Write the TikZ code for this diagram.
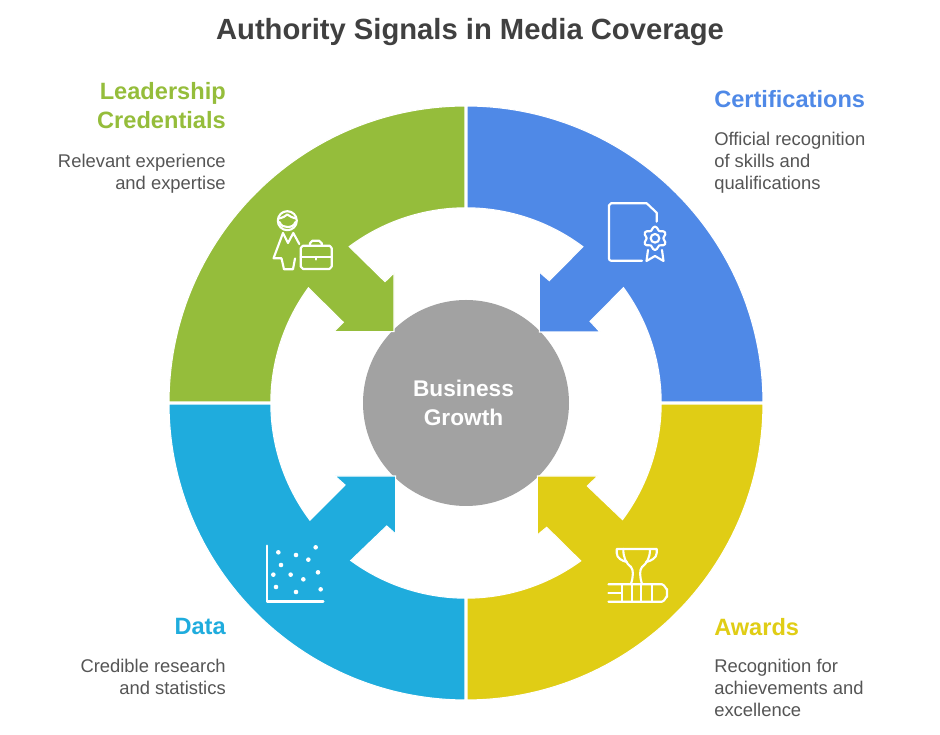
\documentclass[tikz,border=0pt]{standalone}
\usepackage{fontspec}
\setmainfont{Liberation Sans}
\definecolor{cblue}{HTML}{4F89E7}
\definecolor{cgreen}{HTML}{95BD3B}
\definecolor{cyel}{HTML}{E0CD15}
\definecolor{ccyan}{HTML}{1FACDD}
\definecolor{cgray}{HTML}{A2A2A2}
\definecolor{ctext}{HTML}{404040}
\definecolor{cbody}{HTML}{555555}
\tikzset{
  seg/.style={draw=white,line width=0.8pt,line join=miter},
  icon/.style={draw=white,line width=1.6pt,line cap=round,line join=round},
  dotmark/.style={fill=white,draw=none},
  head/.style={font=\fontsize{17.7pt}{22pt}\selectfont\bfseries,inner sep=0pt},
  bodyr/.style={font=\fontsize{13.8pt}{16.5pt}\selectfont,text=cbody,inner sep=0pt,align=left,anchor=north west},
  bodyl/.style={font=\fontsize{13.8pt}{16.5pt}\selectfont,text=cbody,inner sep=0pt,align=right,anchor=north east},
}
\begin{document}
\begin{tikzpicture}[x=0.75pt,y=0.75pt]
\useasboundingbox[fill=white] (0,0) rectangle (940,735);
\node[circle,fill=cgray,minimum size=154.5pt,inner sep=0pt] (hub) at (466,332) {};
\begin{scope}[shift={(466,332)}]
\def\RO{222.75pt}\def\RI{146.4pt}
\path[seg,fill=cblue] (89.8:\RO) arc[start angle=89.8,end angle=0.2,radius=\RO]
 -- (0.3:\RI) arc[start angle=0.3,end angle=36.2,radius=\RI]
 -- (124,81.7) -- (134,71) -- (73.3,71) -- (73.3,131) -- (83.3,122.3)
 -- (53.2:\RI) arc[start angle=53.2,end angle=89.7,radius=\RI] -- cycle;
\path[seg,fill=cgreen] (90.2:\RO) arc[start angle=90.2,end angle=179.8,radius=\RO]
 -- (179.7:\RI) arc[start angle=179.7,end angle=143.85,radius=\RI]
 -- (-122.7,80.7) -- (-132,71.3) -- (-72,71.3) -- (-72,130) -- (-81,121.3)
 -- (126.75:\RI) arc[start angle=126.75,end angle=90.3,radius=\RI] -- cycle;
\path[seg,fill=ccyan] (180.2:\RO) arc[start angle=180.2,end angle=269.8,radius=\RO]
 -- (269.7:\RI) arc[start angle=269.7,end angle=233.8,radius=\RI]
 -- (-79.3,-123) -- (-70.3,-131) -- (-70.3,-73) -- (-131,-73) -- (-121,-82)
 -- (216.9:\RI) arc[start angle=216.9,end angle=180.3,radius=\RI] -- cycle;
\path[seg,fill=cyel] (270.2:\RO) arc[start angle=270.2,end angle=359.8,radius=\RO]
 -- (359.7:\RI) arc[start angle=359.7,end angle=323.3,radius=\RI]
 -- (121.3,-83) -- (131.7,-73) -- (71.3,-73) -- (71.3,-132) -- (80.7,-124.3)
 -- (306:\RI) arc[start angle=306,end angle=270.3,radius=\RI] -- cycle;
\end{scope}
% everything below in reference pixel coordinates
\begin{scope}[shift={(0,735)},yscale=-1]
\node[text=white,align=center,inner sep=0pt,font=\fontsize{17pt}{22pt}\selectfont\bfseries] (hubtext) at (463.5,403) {Business\\Growth};
\node[font=\fontsize{21.9pt}{26pt}\selectfont\bfseries,text=ctext,inner sep=0pt] (title) at (470,32) {Authority Signals in Media Coverage};
\node[head,text=cgreen,anchor=east,align=right] (lead) at (226,105.5) {Leadership\\Credentials};
\node[bodyl] (leadtxt) at (226,154) {Relevant experience\\and expertise};
\node[head,text=cblue,anchor=west] (cert) at (714,99) {Certifications};
\node[bodyr] (certtxt) at (714,132) {Official recognition\\of skills and\\qualifications};
\node[head,text=ccyan,anchor=east] (data) at (226,627) {Data};
\node[bodyl] (datatxt) at (226,659) {Credible research\\and statistics};
\node[head,text=cyel,anchor=west] (awards) at (714,627) {Awards};
\node[bodyr] (awardtxt) at (714,659) {Recognition for\\achievements and\\excellence};
% certificate icon
\draw[icon] (642,260.7) -- (611,260.7) to[out=180,in=90] (609,258.7) -- (609,205.3) to[out=90,in=180] (611,203.3) -- (646.7,203.3) -- (656.7,212.7) -- (656.7,221.7);
\draw[icon] (655,238.3) circle[radius=4.3];
\draw[icon] plot[smooth cycle,samples=36,domain=0:350] ({655+(10+1.7*cos(6*\x))*cos(\x+90)},{238.3+(10+1.7*cos(6*\x))*sin(\x+90)});
\draw[icon] (648,250) -- (646.5,261) -- (655,256) -- (663.5,261) -- (662,250);
% person with briefcase
\draw[icon] (287.3,220.7) circle[radius=9.5];
\draw[icon] (279,218.5) .. controls (283,217.5) and (285,216.5) .. (287.3,214.5) .. controls (290,216.5) and (292,217.5) .. (296,218.5);
\draw[icon] (279.5,222) .. controls (281,226) and (284,227) .. (287.3,227) .. controls (291,227) and (294,226) .. (295.5,222);
\draw[icon] (283,233) -- (273.5,258.3) -- (281.5,258.3) -- (284,269.3) -- (293,269.3) -- (295,258.5);
\draw[icon] (283,233) -- (288,243) -- (293.3,233) -- (299.3,244);
\draw[icon] (303,245.7) -- (329.5,245.7) to[out=0,in=90] (331.7,248) -- (331.7,266.7) to[out=-90,in=0] (329.5,269) -- (303,269) to[out=180,in=-90] (300.7,266.7) -- (300.7,248) to[out=90,in=180] (303,245.7);
\draw[icon] (310,245.7) -- (310,243) to[out=90,in=180] (312.5,240.7) -- (319,240.7) to[out=0,in=90] (321.7,243) -- (321.7,245.7);
\draw[icon] (300.7,257.3) -- (331.7,257.3);
\draw[icon] (316.2,257.3) -- (316.2,259.5);
% scatter icon
\draw[icon,line width=1.8pt] (266.7,545.7) -- (266.7,601.7) -- (323.3,601.7);
\foreach \p/\q in {85/52,138/60,197/37,175/74,93/90,70/119,122/119,160/133,204/112,78/156,138/171,212/163}
  \fill[dotmark] ({250+\p/3},{535+\q/3}) circle[radius=2.3];
% trophy and book icon
\draw[icon] (623.3,549) -- (650,549) .. controls (650,558) and (647,563) .. (642,567) .. controls (639.5,570) and (639.5,576) .. (642,584);
\draw[icon] (623.3,549) .. controls (623.3,558) and (626,563) .. (631,567) .. controls (633.5,570) and (633.5,576) .. (631,584);
\draw[icon] (623.3,549) -- (616.7,549) -- (616.7,553) .. controls (616.7,558) and (622,561) .. (627,562);
\draw[icon] (650,549) -- (656.7,549) -- (656.7,553) .. controls (656.7,558) and (651,561) .. (646,562);
\draw[icon] (608.5,584.3) -- (662,584.3) to[out=0,in=90] (667,589) -- (667,597) to[out=-90,in=0] (662,601.7) -- (608.5,601.7);
\draw[icon] (608.5,593) -- (621.7,593);
\draw[icon] (621.7,584.3) -- (621.7,601.7);
\draw[icon] (631.7,584.3) -- (631.7,601.7);
\draw[icon] (641,584.3) -- (641,601.7);
\draw[icon] (651.7,584.3) -- (651.7,601.7);
\end{scope}
\end{tikzpicture}
\end{document}
